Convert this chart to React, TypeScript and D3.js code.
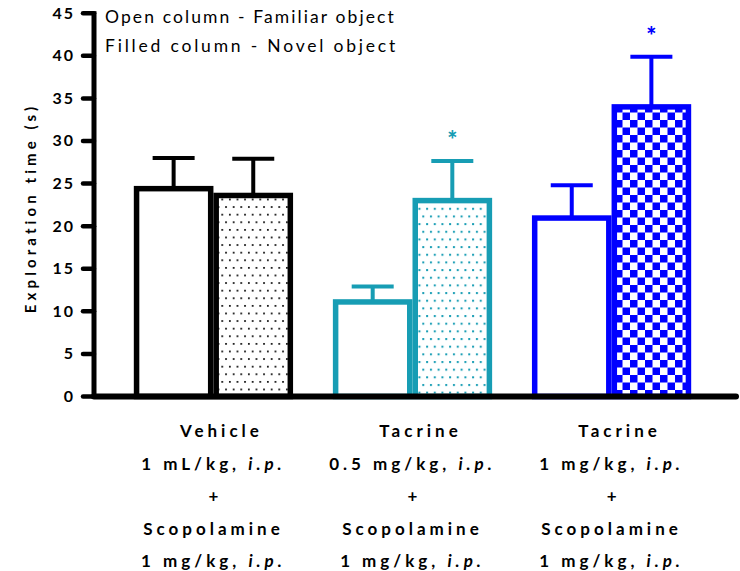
import React from "react";
import * as d3 from "d3";

const groupKeys = ["vehicle", "tacrine05", "tacrine1"];
const familiarMeans = [24.4, 11.1, 20.95];
const familiarErr = [3.6, 1.8, 3.85];
const novelMeans = [23.6, 23.0, 34.0];
const novelErr = [4.3, 4.65, 5.9];
const significance = ["", "*", "*"];
const groupColors = ["#000000", "#179db4", "#0000ff"];
const line1 = ["Vehicle", "Tacrine", "Tacrine"];
const line2 = ["1 mL/kg, ", "0.5 mg/kg, ", "1 mg/kg, "];
const line4 = ["Scopolamine", "Scopolamine", "Scopolamine"];
const line5 = ["1 mg/kg, ", "1 mg/kg, ", "1 mg/kg, "];
const yTicks = [0, 5, 10, 15, 20, 25, 30, 35, 40, 45];
const legendLines = ["Open column - Familiar object", "Filled column - Novel object"];
const yTitle = "Exploration time (s)";

const W = 740;
const H = 571;
const axisX = 94;
const axisY = 396.5;

export default function App() {
  const x = d3.scaleBand<string>().domain(groupKeys).range([axisX, 731]).paddingInner(0.2).paddingOuter(0.2);
  const inner = d3.scaleBand<string>().domain(["familiar", "novel"]).range([0, x.bandwidth()]).padding(0);
  const y = d3.scaleLinear().domain([0, 45]).range([axisY, 13.2]);
  const sw = 5.5;
  const font = "Lato, 'Open Sans', sans-serif";
  const fills = ["url(#dotsBlack)", "url(#dotsTeal)", "url(#checkBlue)"];

  const bars: React.ReactNode[] = [];
  groupKeys.forEach((g, i) => {
    const color = groupColors[i];
    const series = [
      { key: "familiar", mean: familiarMeans[i], err: familiarErr[i], fill: "#ffffff" },
      { key: "novel", mean: novelMeans[i], err: novelErr[i], fill: fills[i] },
    ];
    series.forEach((s) => {
      const x0 = (x(g) as number) + (inner(s.key) as number);
      const bw = inner.bandwidth();
      const cx = x0 + bw / 2;
      const top = y(s.mean);
      const errTop = y(s.mean + s.err);
      bars.push(
        <g key={g + s.key}>
          <line x1={cx} x2={cx} y1={top} y2={errTop} stroke={color} strokeWidth={4} />
          <line x1={cx - 21} x2={cx + 21} y1={errTop} y2={errTop} stroke={color} strokeWidth={4} />
          <rect
            x={x0 + sw / 2}
            y={top}
            width={bw - sw}
            height={axisY - top}
            fill={s.fill}
            stroke={color}
            strokeWidth={sw}
          />
        </g>
      );
      if (s.key === "novel" && significance[i]) {
        bars.push(
          <text
            key={g + "sig"}
            x={cx}
            y={errTop - 12}
            textAnchor="middle"
            fill={color}
            fontFamily={font}
            fontWeight={900}
            fontSize={24}
          >
            {significance[i]}
          </text>
        );
      }
    });
  });

  const labelStyle = { letterSpacing: "4px" } as React.CSSProperties;
  const lineYs = [437, 469.5, 502, 534.5, 567];

  return (
    <svg width={W} height={H} style={{ position: "absolute", left: 0, top: 0, background: "#fff" }}>
      <defs>
        <pattern id="dotsBlack" patternUnits="userSpaceOnUse" width={7.6} height={15.2}>
          <rect x={1} y={1} width={1.7} height={1.7} fill="#000" />
          <rect x={4.8} y={8.6} width={1.7} height={1.7} fill="#000" />
        </pattern>
        <pattern id="dotsTeal" patternUnits="userSpaceOnUse" width={7.66} height={15.32}>
          <rect x={1} y={1} width={2} height={2} fill="#179db4" />
          <rect x={4.83} y={8.66} width={2} height={2} fill="#179db4" />
        </pattern>
        <pattern id="checkBlue" patternUnits="userSpaceOnUse" width={15} height={15}>
          <rect x={0} y={0} width={15} height={15} fill="#fff" />
          <rect x={0} y={0} width={7.5} height={7.5} fill="#0000ff" />
          <rect x={7.5} y={7.5} width={7.5} height={7.5} fill="#0000ff" />
        </pattern>
      </defs>

      {/* legend */}
      {legendLines.map((t, i) => (
        <text
          key={t}
          x={105}
          y={23 + i * 29}
          fontFamily={font}
          fontSize={17.5}
          fill="#000"
          style={{ letterSpacing: i === 0 ? "2.1px" : "2.8px" }}
        >
          {t}
        </text>
      ))}

      {/* y axis title */}
      <text
        transform={`translate(36, 208) rotate(-90)`}
        textAnchor="middle"
        fontFamily={font}
        fontWeight={700}
        fontSize={15}
        fill="#000"
        style={{ letterSpacing: "4.1px" }}
      >
        {yTitle}
      </text>

      {bars}

      {/* y axis */}
      <line x1={axisX} x2={axisX} y1={y(45) - 2} y2={axisY + 2} stroke="#000" strokeWidth={5} />
      {yTicks.map((t) => (
        <g key={t}>
          <line x1={83} x2={axisX} y1={y(t)} y2={y(t)} stroke="#000" strokeWidth={4.5} strokeLinecap="round" />
          <text
            x={75}
            y={y(t) + 5.5}
            textAnchor="end"
            fontFamily={font}
            fontWeight={700}
            fontSize={16}
            fill="#000"
            style={{ letterSpacing: "2px" }}
          >
            {t}
          </text>
        </g>
      ))}

      {/* x axis */}
      <line x1={axisX} x2={736} y1={axisY} y2={axisY} stroke="#000" strokeWidth={6} strokeLinecap="round" />

      {/* x labels */}
      {groupKeys.map((g, i) => {
        const cx = (x(g) as number) + x.bandwidth() / 2;
        return (
          <g key={g + "lab"} fontFamily={font} fontWeight={700} fontSize={17} fill="#000" textAnchor="middle">
            <text x={cx + 8} y={lineYs[0]} style={labelStyle}>{line1[i]}</text>
            <text x={cx} y={lineYs[1]} style={labelStyle}>
              {line2[i]}
              <tspan fontStyle="italic">i.p.</tspan>
            </text>
            <text x={cx + 2} y={lineYs[2]} style={labelStyle}>+</text>
            <text x={cx} y={lineYs[3]} style={labelStyle}>{line4[i]}</text>
            <text x={cx} y={lineYs[4]} style={labelStyle}>
              {line5[i]}
              <tspan fontStyle="italic">i.p.</tspan>
            </text>
          </g>
        );
      })}
    </svg>
  );
}
